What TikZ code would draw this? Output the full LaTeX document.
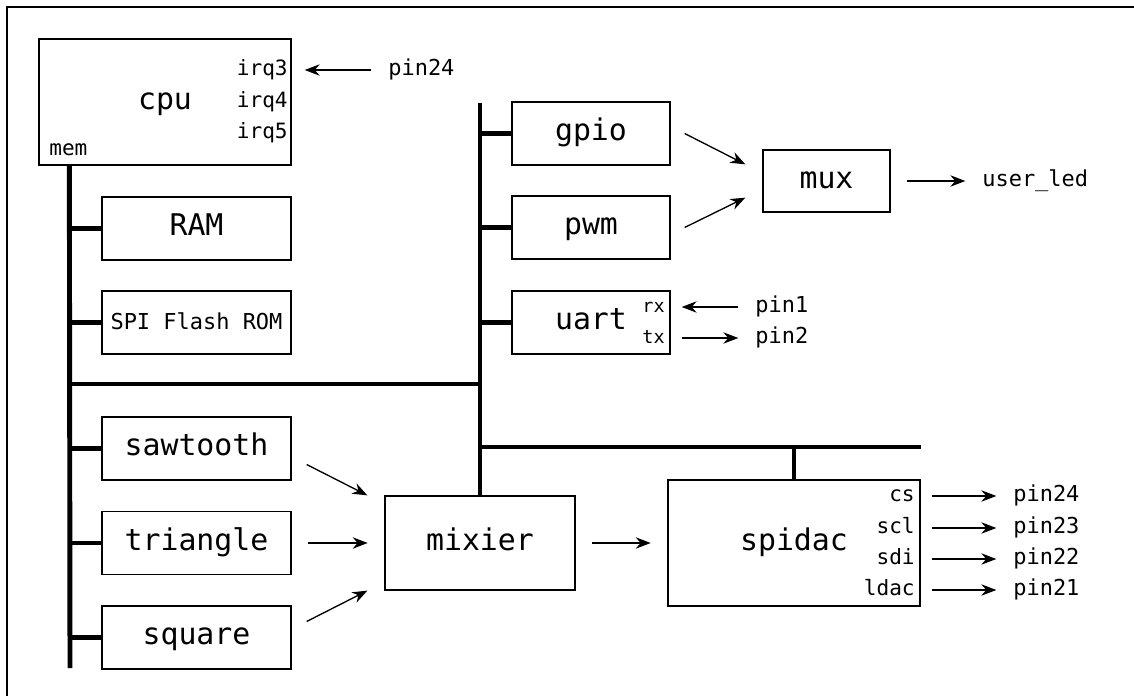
\documentclass[tikz,border=0pt]{standalone}
\usepackage{fontspec}
\setmainfont{DejaVu Sans Mono}
\usetikzlibrary{arrows.meta,calc}

\begin{document}
\begin{tikzpicture}[x=0.02cm,y=-0.02cm,
    blk/.style={draw,line width=0.75pt,inner sep=0pt,font=\fontsize{17}{20}\selectfont,text height=12pt,text depth=4pt},
    smallblk/.style={blk,font=\fontsize{12.5}{15}\selectfont},
    side/.style={minimum width=3.78cm,minimum height=1.26cm},
    io/.style={minimum width=3.16cm,minimum height=1.26cm},
    bus/.style={line width=2.8pt},
    port/.style={inner sep=0pt,font=\fontsize{12}{14}\selectfont,text height=1.55ex,text depth=0.45ex},
    rxtx/.style={port,font=\fontsize{10.5}{12}\selectfont},
    pin/.style={port,font=\fontsize{12.5}{15}\selectfont},
    sig/.style={-{Stealth[length=8.5pt,width=6.5pt]},line width=0.75pt},
    gap/.style={shorten <=9.5pt,shorten >=9.5pt}]
        \useasboundingbox (0,0) rectangle (1134,696);
        \draw[line width=0.75pt] (7,696) -- (7,7) -- (1134,7);

        \node[blk,minimum width=5.04cm,minimum height=2.52cm] (cpu) at (165,102) {cpu};
        \node[port,anchor=east] (irq3) at (288,70) {irq3};
        \node[port,anchor=east] (irq4) at (288,102) {irq4};
        \node[port,anchor=east] (irq5) at (288,133) {irq5};
        \node[port,anchor=west] (mem) at (49,150) {mem};
        \node[pin,anchor=west] (pin24a) at (388,70) {pin24};

        \node[blk,side] (ram) at (196.5,228.5) {RAM};
        \node[smallblk,side] (rom) at (196.5,322.5) {SPI Flash ROM};
        \node[blk,side] (saw) at (196.5,448.5) {sawtooth};
        \node[blk,side] (tri) at (196.5,543) {triangle};
        \node[blk,side] (sqr) at (196.5,637.5) {square};

        \node[blk,io] (gpio) at (591,133.5) {gpio};
        \node[blk,io] (pwm) at (591,227.5) {pwm};
        \node[blk,io] (uart) at (591,322.5) {uart\hspace{8pt}};
        \node[rxtx,anchor=east] (rx) at (665,307) {rx};
        \node[rxtx,anchor=east] (tx) at (665,338) {tx};
        \node[pin,anchor=west] (pin1) at (755,307) {pin1};
        \node[pin,anchor=west] (pin2) at (755,338) {pin2};

        \node[blk,minimum width=2.54cm,minimum height=1.24cm] (mux) at (826.5,181) {mux};
        \node[pin,anchor=west] (led) at (982,181) {user\_led};

        \node[blk,minimum width=3.8cm,minimum height=1.88cm] (mixier) at (480,543) {mixier};
        \node[blk,minimum width=5.04cm,minimum height=2.52cm] (spidac) at (794,543) {spidac\hspace{6pt}};
        \node[port,anchor=east] (cs) at (915,496) {cs};
        \node[port,anchor=east] (scl) at (915,528) {scl};
        \node[port,anchor=east] (sdi) at (915,559) {sdi};
        \node[port,anchor=east] (ldac) at (915,590) {ldac};
        \node[pin,anchor=west] (p24) at (1013,496) {pin24};
        \node[pin,anchor=west] (p23) at (1013,528) {pin23};
        \node[pin,anchor=west] (p22) at (1013,559) {pin22};
        \node[pin,anchor=west] (p21) at (1013,590) {pin21};

        \coordinate (lbtop) at ($(cpu.south west)+(31,0)$);
        \coordinate (lbbot) at (70,668);
        \coordinate (rbtop) at (480,103);
        \coordinate (hbus) at (70,384);
        \coordinate (dbus) at (480,447);

        \draw[bus] (lbtop) -- (lbbot);
        \draw[bus] (hbus) -- (hbus -| rbtop);
        \draw[bus] (rbtop) -- (mixier.north);
        \draw[bus] (dbus) -- (dbus -| spidac.east);
        \draw[bus] (dbus -| spidac.north) -- (spidac.north);
        \foreach \n in {ram,rom,saw,tri,sqr} \draw[bus] (lbtop |- \n.west) -- (\n.west);
        \foreach \n in {gpio,pwm,uart} \draw[bus] (rbtop |- \n.west) -- (\n.west);

        \draw[sig,gap] (pin24a) -- (irq3);
        \draw[sig,gap] (pin1) -- (rx);
        \draw[sig,gap] (tx) -- (pin2);
        \draw[sig,gap] (mux) -- (led);
        \draw[sig,gap] (tri) -- (mixier);
        \draw[sig,gap] (mixier) -- (spidac);
        \draw[sig,gap] (cs) -- (p24);
        \draw[sig,gap] (scl) -- (p23);
        \draw[sig,gap] (sdi) -- (p22);
        \draw[sig,gap] (ldac) -- (p21);

        \draw[sig] ($(saw.east)+(15,16)$) -- ($(mixier.north west)+(-17,0)$);
        \draw[sig] ($(sqr.east)+(15,-16)$) -- ($(mixier.south west)+(-17,0)$);
        \draw[sig] ($(gpio.east)+(14,0)$) -- ($(mux.north west)+(-17,15)$);
        \draw[sig] ($(pwm.east)+(14,0)$) -- ($(mux.south west)+(-17,-15)$);
\end{tikzpicture}
\end{document}
